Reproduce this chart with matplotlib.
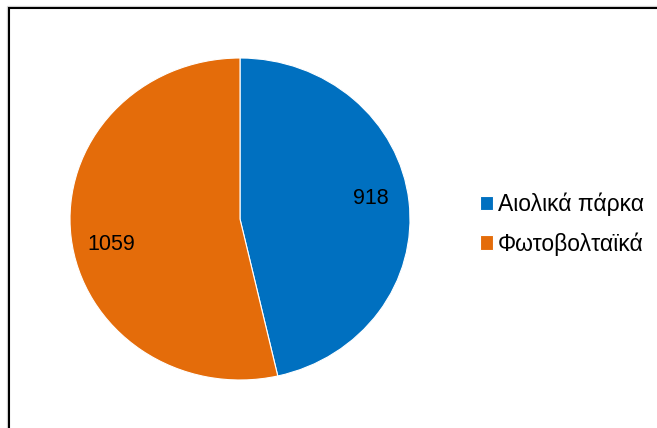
import matplotlib.pyplot as plt
from matplotlib.patches import Rectangle

# --- Data ---
labels = ['Αιολικά πάρκα', 'Φωτοβολταϊκά']
values = [918, 1059]
colors = ['#0070C0', '#E46C0A']

plt.rcParams['font.family'] = ['Liberation Sans', 'DejaVu Sans']

fig = plt.figure(figsize=(6.57, 4.28), dpi=100)
W, H = 657, 428

# frame border (extends past right/bottom edges), with a soft grey shadow
fig.patches.append(Rectangle((6.5 / W, -0.1), 1.2, (H - 6) / H + 0.1,
                             transform=fig.transFigure, fill=False,
                             edgecolor='#d8d8d8', lw=1.0))
fig.patches.append(Rectangle((8.5 / W, -0.1), 1.2, (H - 7.5) / H + 0.1,
                             transform=fig.transFigure, fill=False,
                             edgecolor='black', lw=1.5))

ax = fig.add_axes([70 / W, (H - 380) / H, 340 / W, 322 / H])
wedges, texts, autotexts = ax.pie(
    values, colors=colors, startangle=90, counterclock=False,
    autopct=lambda p: f'{p * sum(values) / 100:.0f}', pctdistance=0.78,
    wedgeprops=dict(edgecolor='white', linewidth=0.8),
    textprops=dict(fontsize=15.5, color='black'))
ax.set_aspect('auto')
ax.set_xlim(-1, 1)
ax.set_ylim(-1, 1)
# nudge the value labels to where the original places them
autotexts[0].set_position((0.77, 0.13))
autotexts[1].set_position((-0.76, -0.16))

fig.legend(wedges, labels, loc='center left',
           bbox_to_anchor=(459 / W, 1 - 224 / H), frameon=False,
           fontsize=16.5, handlelength=0.6, handleheight=0.6,
           handletextpad=0.2, labelspacing=0.7)

fig.savefig('out.png', dpi=100)
